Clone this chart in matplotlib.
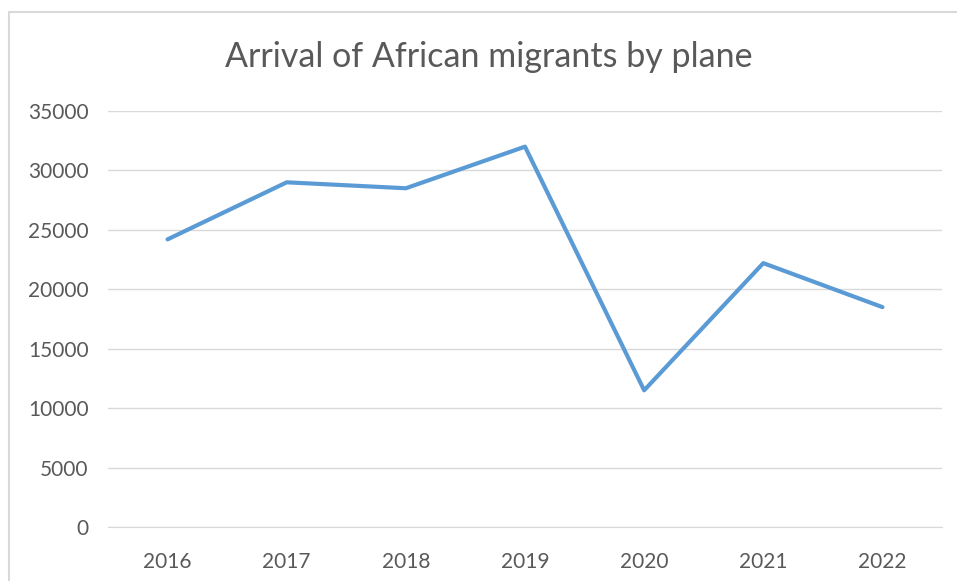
import matplotlib
matplotlib.use("Agg")
import matplotlib.pyplot as plt
from matplotlib.patches import Rectangle

years = ["2016", "2017", "2018", "2019", "2020", "2021", "2022"]
arrivals = [24200, 29000, 28500, 32000, 11500, 22200, 18500]
yticks = [0, 5000, 10000, 15000, 20000, 25000, 30000, 35000]

plt.rcParams['font.family'] = ['Lato', 'DejaVu Sans']
W, H = 957, 581
fig = plt.figure(figsize=(W/100, H/100), dpi=100)
fig.patch.set_facecolor('white')
fig.patches.append(Rectangle((9/W, -0.02), 1.0, 1.02 - 12/H, transform=fig.transFigure,
                             fill=False, edgecolor='#D9D9D9', linewidth=1.5))

ax = fig.add_axes([108/W, 1 - 527/H, (942-108)/W, (527-111)/H])
x = list(range(len(years)))
ax.plot(x, arrivals, color='#5B9BD5', linewidth=3.0, solid_capstyle='round', solid_joinstyle='round')
ax.set_xlim(-0.5, len(years) - 0.5)
ax.set_ylim(0, 35000)
ax.set_yticks(yticks)
ax.set_yticklabels([str(v) for v in yticks])
ax.set_xticks(x)
ax.set_xticklabels(years)
ax.grid(axis='y', color='#D9D9D9', linewidth=1)
ax.set_axisbelow(True)
for s in ['top', 'right', 'left']:
    ax.spines[s].set_visible(False)
ax.spines['bottom'].set_color('#D9D9D9')
ax.tick_params(axis='both', length=0, colors='#595959', labelsize=15)
ax.tick_params(axis='y', pad=14)
ax.tick_params(axis='x', pad=18)
fig.text(489/W, 1 - 57/H, "Arrival of African migrants by plane", ha='center', va='center',
         fontsize=24.5, color='#595959')
fig.savefig("out.png", dpi=100)
